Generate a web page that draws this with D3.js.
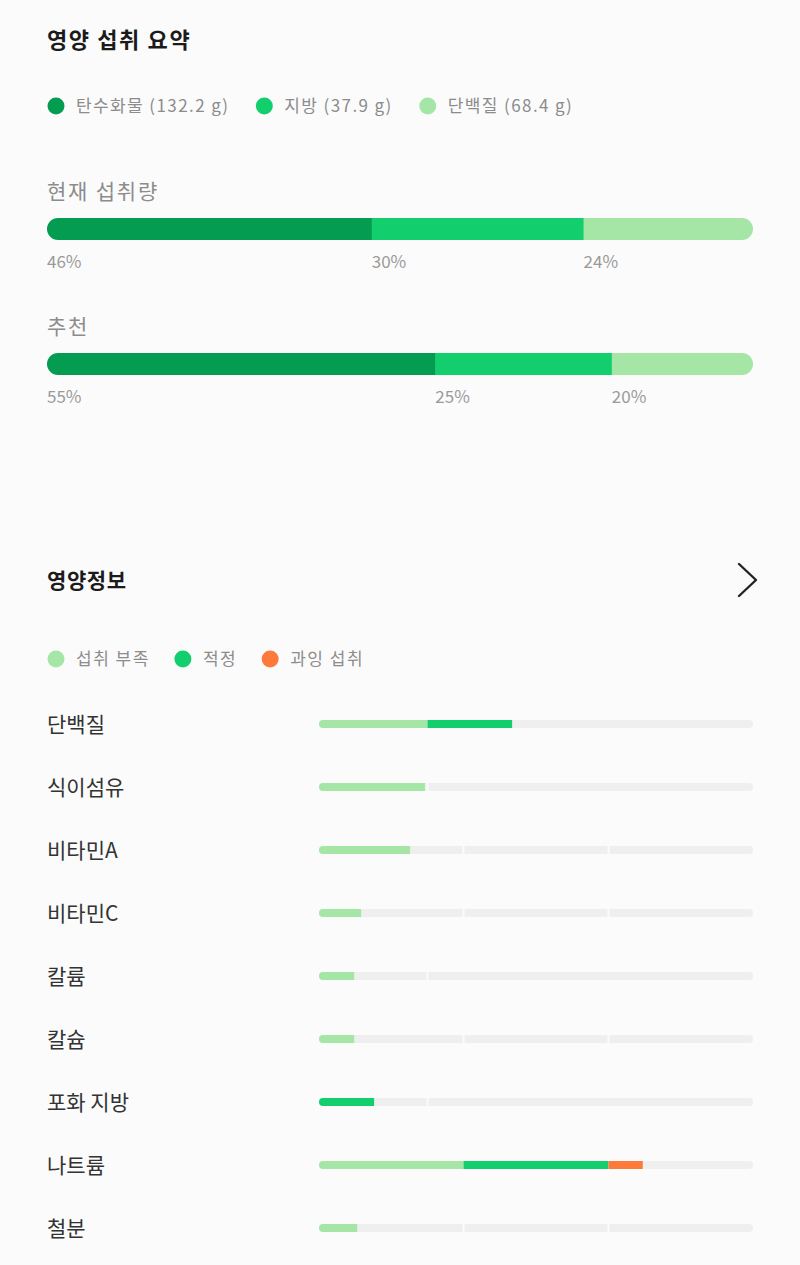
<!DOCTYPE html>
<html>
<head>
<meta charset="utf-8">
<script src="https://cdn.jsdelivr.net/npm/d3@7"></script>
<style>
  html, body { margin: 0; padding: 0; background: #fbfbfb; }
  svg { display: block; font-family: "Noto Sans CJK KR", "Noto Sans", sans-serif; }
</style>
</head>
<body>
<svg id="chart" width="800" height="1265"></svg>
<script>
// macro summary
const macroNames = ['탄수화물', '지방', '단백질'];
const macroGrams = [132.2, 37.9, 68.4];
const macroColors = ['#049c50', '#13ce6d', '#a5e6a6'];
const barLabels = ['현재 섭취량', '추천'];
const currentPct = [46, 30, 24];
const recommendPct = [55, 25, 20];

// nutrient info
const statusNames = ['섭취 부족', '적정', '과잉 섭취'];
const statusColors = ['#a5e6a6', '#13ce6d', '#fd7a3b'];
const nutrients = ['단백질', '식이섬유', '비타민A', '비타민C', '칼륨', '칼슘', '포화 지방', '나트륨', '철분'];
const intake = [44.5, 24.4, 21, 9.7, 8.1, 8.1, 12.7, 74.6, 8.8];        // % of track
const thresholds = [[25], [25], [33.3, 66.7], [33.3, 66.7], [25], [33.3, 66.7], [25], [33.3, 66.7], [33.3, 66.7]];
const zoneStatus = [[0, 1], [0, 1], [0, 1, 2], [0, 1, 2], [0, 1], [0, 1, 2], [1, 2], [0, 1, 2], [0, 1, 2]];

const svg = d3.select('#chart');
const defs = svg.append('defs');

// ---- section 1: 영양 섭취 요약
svg.append('text')
  .attr('x', 47).attr('y', 48)
  .attr('font-size', 22).attr('font-weight', 700).attr('fill', '#1b1b1b')
  .attr('letter-spacing', 1.6)
  .text('영양 섭취 요약');

let lx = 47;
macroNames.forEach((n, i) => {
  const g = svg.append('g');
  g.append('circle').attr('cx', lx + 9).attr('cy', 106).attr('r', 8.5).attr('fill', macroColors[i]);
  const t = g.append('text')
    .attr('x', lx + 29).attr('y', 112)
    .attr('font-size', 17).attr('fill', '#8c8c8c')
    .attr('letter-spacing', 1.4)
    .text(`${n} (${macroGrams[i]} g)`);
  lx += 29 + t.node().getComputedTextLength() + 26;
});

const xMacro = d3.scaleLinear().domain([0, 100]).range([47, 753]);

function macroBar(label, pcts, top, idx) {
  svg.append('text')
    .attr('x', 47).attr('y', top - 19)
    .attr('font-size', 21).attr('fill', '#8c8c8c')
    .attr('letter-spacing', 1.8)
    .text(label);

  defs.append('clipPath').attr('id', 'mclip' + idx)
    .append('rect')
    .attr('x', xMacro(0)).attr('y', top)
    .attr('width', xMacro(100) - xMacro(0)).attr('height', 22)
    .attr('rx', 11);

  const starts = d3.cumsum([0].concat(pcts.slice(0, -1)));
  const g = svg.append('g').attr('clip-path', `url(#mclip${idx})`);
  g.selectAll('rect')
    .data(pcts)
    .join('rect')
    .attr('x', (d, i) => xMacro(starts[i]))
    .attr('y', top)
    .attr('width', d => xMacro(d) - xMacro(0) + 0.5)
    .attr('height', 22)
    .attr('fill', (d, i) => macroColors[i]);

  svg.append('g').selectAll('text')
    .data(pcts)
    .join('text')
    .attr('x', (d, i) => xMacro(starts[i]))
    .attr('y', top + 50)
    .attr('font-size', 17).attr('fill', '#9a9a9a')
    .text(d => d + '%');
}
macroBar(barLabels[0], currentPct, 218, 0);
macroBar(barLabels[1], recommendPct, 353, 1);

// ---- section 2: 영양정보
svg.append('text')
  .attr('x', 47).attr('y', 588)
  .attr('font-size', 21).attr('font-weight', 700).attr('fill', '#1b1b1b')
  .attr('letter-spacing', 0.6)
  .text('영양정보');

svg.append('path')
  .attr('d', 'M739,564 L756,580 L739,596')
  .attr('fill', 'none').attr('stroke', '#222').attr('stroke-width', 2.4)
  .attr('stroke-linecap', 'round').attr('stroke-linejoin', 'round');

let sx = 47;
statusNames.forEach((n, i) => {
  svg.append('circle').attr('cx', sx + 9).attr('cy', 659).attr('r', 8.5).attr('fill', statusColors[i]);
  const t = svg.append('text')
    .attr('x', sx + 29).attr('y', 665)
    .attr('font-size', 17).attr('fill', '#8c8c8c')
    .attr('letter-spacing', 1.5)
    .text(n);
  sx += 29 + t.node().getComputedTextLength() + 24;
});

const x = d3.scaleLinear().domain([0, 100]).range([319, 753]);
const y = d3.scalePoint().domain(nutrients).range([724, 1228]);
const trackH = 8;

const rows = svg.append('g').selectAll('g')
  .data(nutrients)
  .join('g')
  .attr('transform', d => `translate(0,${y(d)})`);

rows.append('text')
  .attr('x', 47).attr('y', 8)
  .attr('font-size', 21).attr('fill', '#333')
  .text(d => d);

rows.each(function (name, i) {
  const row = d3.select(this);
  defs.append('clipPath').attr('id', 'nclip' + i)
    .append('rect')
    .attr('x', x(0)).attr('y', -trackH / 2)
    .attr('width', x(100) - x(0)).attr('height', trackH)
    .attr('rx', trackH / 2);

  const g = row.append('g').attr('clip-path', `url(#nclip${i})`);
  g.append('rect')
    .attr('x', x(0)).attr('y', -trackH / 2)
    .attr('width', x(100) - x(0)).attr('height', trackH)
    .attr('fill', '#efefef');

  g.selectAll('line.gap')
    .data(thresholds[i])
    .join('line')
    .attr('class', 'gap')
    .attr('x1', d => x(d)).attr('x2', d => x(d))
    .attr('y1', -trackH).attr('y2', trackH)
    .attr('stroke', '#fbfbfb').attr('stroke-width', 2);

  // split intake into zone segments
  const edges = [0].concat(thresholds[i], [100]);
  const segs = [];
  for (let k = 0; k < edges.length - 1; k++) {
    const a = edges[k], b = Math.min(edges[k + 1], intake[i]);
    if (b > a) segs.push({ a, b, s: zoneStatus[i][k] });
  }
  g.selectAll('rect.seg')
    .data(segs)
    .join('rect')
    .attr('class', 'seg')
    .attr('x', d => x(d.a))
    .attr('y', -trackH / 2)
    .attr('width', d => x(d.b) - x(d.a))
    .attr('height', trackH)
    .attr('fill', d => statusColors[d.s]);
});
</script>
</body>
</html>
